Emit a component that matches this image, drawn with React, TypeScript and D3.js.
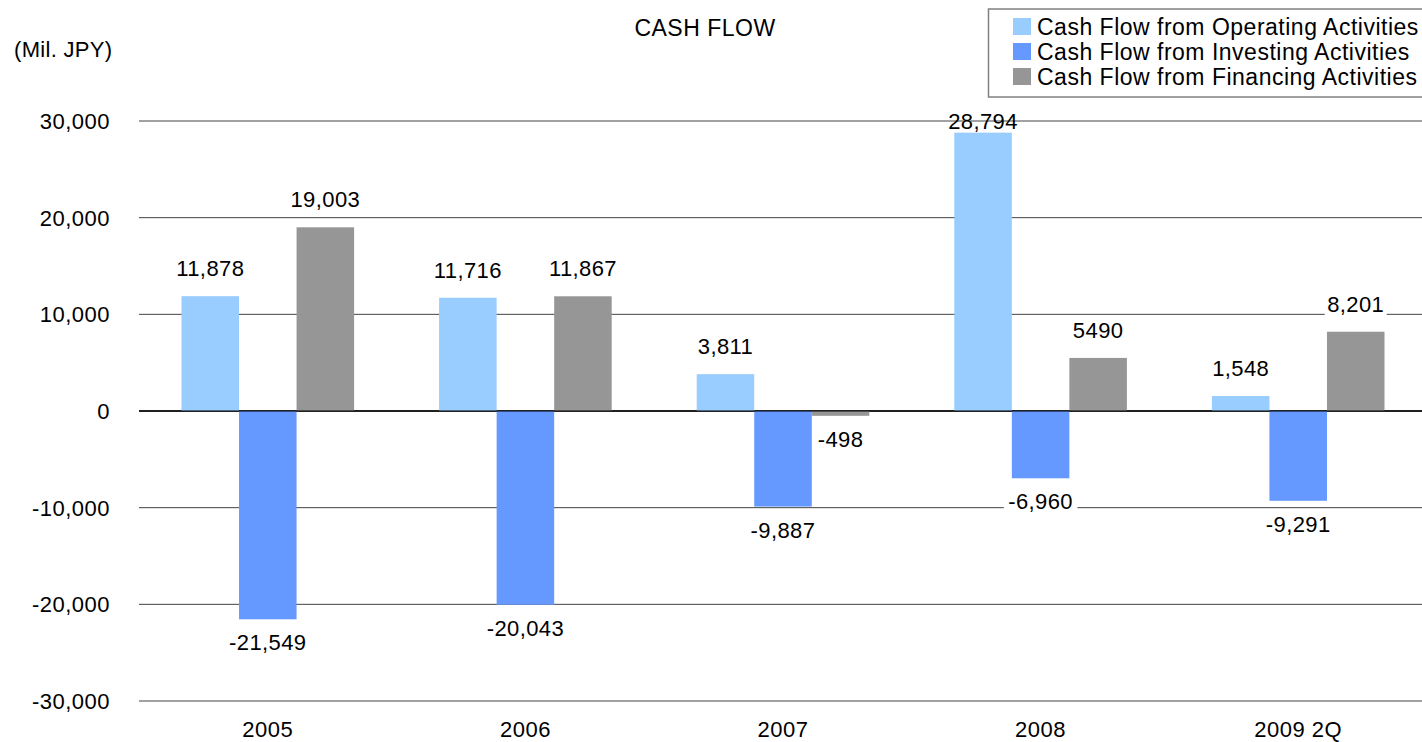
import React from "react";
import * as d3 from "d3";

const categories = ["2005", "2006", "2007", "2008", "2009 2Q"];
const seriesNames = [
  "Cash Flow from Operating Activities",
  "Cash Flow from Investing Activities",
  "Cash Flow from Financing Activities",
];
const operating = [11878, 11716, 3811, 28794, 1548];
const investing = [-21549, -20043, -9887, -6960, -9291];
const financing = [19003, 11867, -498, 5490, 8201];
const labelTexts = [
  ["11,878", "11,716", "3,811", "28,794", "1,548"],
  ["-21,549", "-20,043", "-9,887", "-6,960", "-9,291"],
  ["19,003", "11,867", "-498", "5490", "8,201"],
];
const yTicks = [-30000, -20000, -10000, 0, 10000, 20000, 30000];
const colors = ["#99CCFF", "#6699FF", "#969696"];

const W = 1422;
const H = 742;
const FONT = "Liberation Sans, Arial, sans-serif";
const FS = 22;

export default function App() {
  const y = d3.scaleLinear().domain([-30000, 30000]).range([701, 121]);
  const step = 257.6;
  const x0 = d3
    .scaleBand<string>()
    .domain(categories)
    .range([139, 139 + step * categories.length])
    .padding(0);
  const x1 = d3
    .scaleBand<string>()
    .domain(seriesNames)
    .range([42.5, step - 42.5])
    .padding(0);
  const series = [operating, investing, financing];
  const fmt = (v: number) => d3.format(",")(v).replace("\u2212", "-");

  const labelW = (t: string) => t.length * 11.6 + 4;

  return (
    <svg
      width={W}
      height={H}
      style={{ position: "absolute", left: 0, top: 0, background: "#fff" }}
      fontFamily={FONT}
    >
      {/* gridlines */}
      {yTicks.map((t) => (
        <line
          key={t}
          x1={139}
          x2={W}
          y1={y(t)}
          y2={y(t)}
          stroke={t === 0 ? "#000" : "#444"}
          strokeWidth={t === 0 ? 1.5 : 1}
        />
      ))}
      {/* y tick labels */}
      {yTicks.map((t) => (
        <text
          key={"l" + t}
          x={110}
          y={y(t) + 8}
          textAnchor="end"
          fontSize={FS}
          letterSpacing={0.5}
          fill="#000"
        >
          {fmt(t)}
        </text>
      ))}
      {/* bars */}
      {categories.map((c, ci) =>
        series.map((s, si) => {
          const v = s[ci];
          const bx = (x0(c) as number) + (x1(seriesNames[si]) as number);
          const top = Math.min(y(v), y(0));
          const h = Math.abs(y(v) - y(0));
          return (
            <rect
              key={c + si}
              x={bx}
              y={top}
              width={x1.bandwidth()}
              height={h}
              fill={colors[si]}
            />
          );
        })
      )}
      {/* zero line over bars */}
      <line x1={139} x2={W} y1={y(0)} y2={y(0)} stroke="#000" strokeWidth={1.2} />
      {/* value labels */}
      {categories.map((c, ci) =>
        series.map((s, si) => {
          const v = s[ci];
          const cx =
            (x0(c) as number) + (x1(seriesNames[si]) as number) + x1.bandwidth() / 2;
          let cy = v >= 0 ? y(v) - 28 : y(v) + 23;
          let clamped = false;
          if (cy < y(30000)) {
            cy = y(30000);
            clamped = true;
          }
          const t = labelTexts[si][ci];
          const lw = labelW(t);
          return (
            <g key={"v" + c + si}>
              {!clamped && (
                <rect x={cx - lw / 2} y={cy - 12} width={lw} height={24} fill="#fff" />
              )}
              <text
                x={cx}
                y={cy + 8}
                textAnchor="middle"
                fontSize={FS}
                letterSpacing={0.4}
                fill="#000"
              >
                {t}
              </text>
            </g>
          );
        })
      )}
      {/* category labels */}
      {categories.map((c) => (
        <text
          key={"c" + c}
          x={(x0(c) as number) + x0.bandwidth() / 2}
          y={737}
          textAnchor="middle"
          fontSize={FS}
          letterSpacing={0.5}
          fill="#000"
        >
          {c}
        </text>
      ))}
      {/* titles */}
      <text x={705} y={36} textAnchor="middle" fontSize={23} letterSpacing={0.5}>
        CASH FLOW
      </text>
      <text x={14} y={57} fontSize={FS} letterSpacing={0.3}>
        (Mil. JPY)
      </text>
      {/* legend */}
      <rect x={988.5} y={9} width={450} height={88} fill="#fff" stroke="#808080" strokeWidth={1.5} />
      {seriesNames.map((n, i) => (
        <g key={"lg" + i}>
          <rect x={1013} y={18 + i * 25} width={18} height={17} fill={colors[i]} />
          <text x={1037} y={35 + i * 25} fontSize={23} letterSpacing={0.5}>
            {n}
          </text>
        </g>
      ))}
    </svg>
  );
}
